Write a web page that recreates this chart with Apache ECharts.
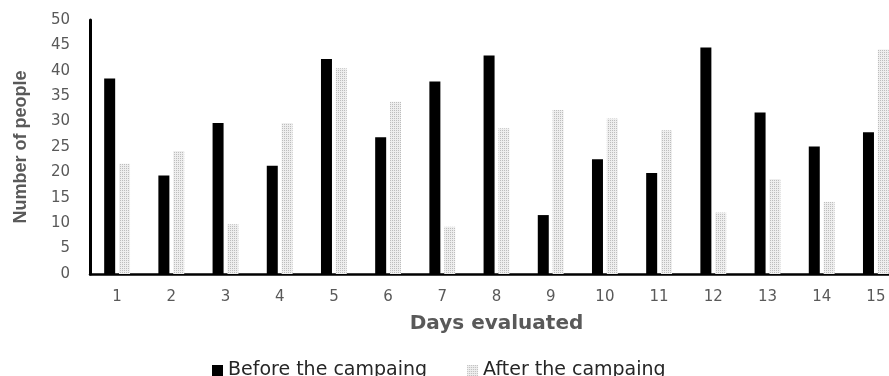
<!DOCTYPE html>
<html>
<head>
<meta charset="utf-8">
<script src="https://cdn.jsdelivr.net/npm/echarts@6/dist/echarts.min.js"></script>
<style>html,body{margin:0;padding:0;background:#fff;overflow:hidden;width:889px;height:376px}#c{width:910px;height:376px}</style>
</head>
<body>
<div id="c"></div>
<script>
var days = ['1','2','3','4','5','6','7','8','9','10','11','12','13','14','15'];
var before = [38.5, 19.4, 29.7, 21.3, 42.3, 26.9, 37.9, 43.0, 11.6, 22.6, 19.9, 44.6, 31.8, 25.1, 27.9];
var after = [21.7, 24.2, 9.8, 29.7, 40.5, 33.9, 9.3, 28.7, 32.3, 30.6, 28.3, 12.1, 18.7, 14.2, 44.2];
var seriesNames = ['Before the campaing', 'After the campaing'];

var pc = document.createElement('canvas');
pc.width = 2; pc.height = 2;
var pctx = pc.getContext('2d');
pctx.fillStyle = '#eeeeee'; pctx.fillRect(0,0,2,2);
pctx.fillStyle = '#bdbdbd'; pctx.fillRect(0,0,1,1);
var dotted = {image: pc, repeat: 'repeat'};

var chart = echarts.init(document.getElementById('c'));
chart.setOption({
  animation: false,
  grid: {left: 90, top: 20, width: 813, height: 254, containLabel: false},
  legend: {
    left: 207, top: 356, itemWidth: 11, itemHeight: 11, itemGap: 40,
    icon: 'rect',
    textStyle: {fontFamily: 'DejaVu Sans', fontSize: 19, color: '#262626'},
    data: seriesNames
  },
  xAxis: {
    type: 'category', data: days,
    name: 'Days evaluated', nameLocation: 'middle', nameGap: 40,
    nameTextStyle: {fontFamily: 'DejaVu Sans', fontWeight: 'bold', fontSize: 20, color: '#595959'},
    axisLine: {lineStyle: {color: '#000', width: 2.5}},
    axisTick: {show: false},
    axisLabel: {fontFamily: 'DejaVu Sans', fontSize: 15, color: '#595959', margin: 16}
  },
  yAxis: {
    type: 'value', min: 0, max: 50, interval: 5,
    name: 'Number of people', nameLocation: 'middle', nameGap: 60,
    nameTextStyle: {fontFamily: 'Liberation Sans', fontWeight: 'bold', fontSize: 18, color: '#595959'},
    axisLine: {show: true, lineStyle: {color: '#000', width: 3}},
    axisTick: {show: false},
    splitLine: {show: false},
    axisLabel: {fontFamily: 'DejaVu Sans', fontSize: 15, color: '#595959', margin: 20}
  },
  series: [
    {name: seriesNames[0], type: 'bar', data: before, barWidth: 11, barGap: '35%',
     itemStyle: {color: '#000'}},
    {name: seriesNames[1], type: 'bar', data: after, barWidth: 11,
     itemStyle: {color: dotted}}
  ]
});
</script>
</body>
</html>
